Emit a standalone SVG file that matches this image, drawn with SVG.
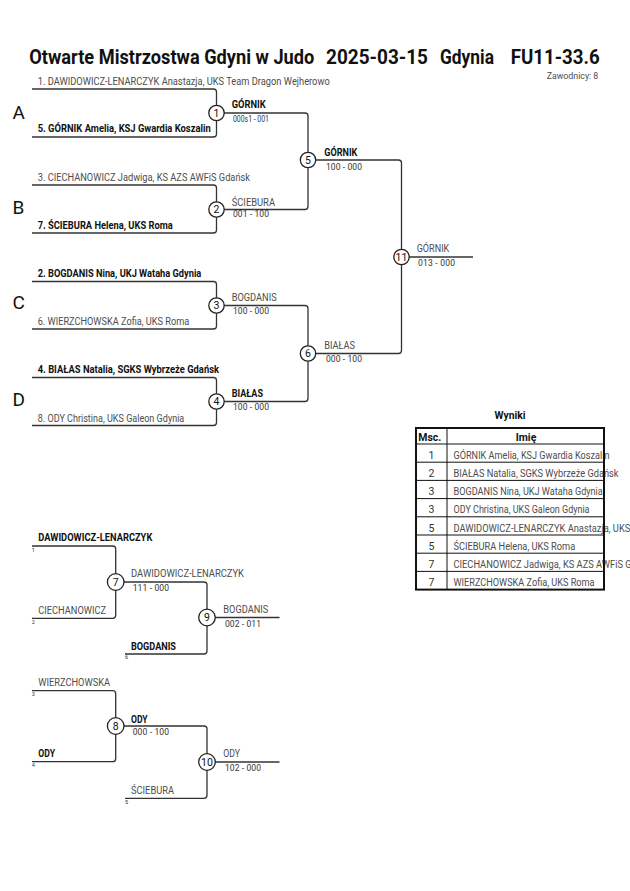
<svg xmlns="http://www.w3.org/2000/svg" width="630" height="891" viewBox="0 0 630 891">
<style>
text{font-family:Roboto,"Liberation Sans",sans-serif;}
.t{font-size:19.5px;font-weight:bold;fill:#111;}
.n{font-size:10.5px;fill:#4d4d4d;}
.b{font-size:10.5px;font-weight:bold;fill:#111;}
.s{font-size:8.5px;fill:#333;}
.seed{font-size:5.5px;fill:#333;}
.L{font-size:19px;fill:#111;}
.c{font-size:10.5px;fill:#111;text-anchor:middle;}
.ln{fill:none;stroke:#333;stroke-width:1.3;}
.ci{fill:#fff;stroke:#222;stroke-width:1.3;}
.tb{fill:none;stroke:#111;stroke-width:1;}
.tbo{fill:none;stroke:#111;stroke-width:2;}
.m{text-anchor:middle;}
</style>
<rect width="630" height="891" fill="#fff"/>
<g id="title">
<text class="t" y="64"><tspan x="29.3" textLength="285" lengthAdjust="spacingAndGlyphs">Otwarte Mistrzostwa Gdyni w Judo</tspan><tspan x="326" textLength="102" lengthAdjust="spacingAndGlyphs">2025-03-15</tspan><tspan x="440" textLength="54" lengthAdjust="spacingAndGlyphs">Gdynia</tspan><tspan x="510.7" textLength="89" lengthAdjust="spacingAndGlyphs">FU11-33.6</tspan></text>
<text class="n" x="546.7" y="79" textLength="51.6" lengthAdjust="spacingAndGlyphs" style="font-size:9.5px">Zawodnicy: 8</text>
</g>
<g id="pool-labels">
<text class="L" x="12.5" y="119">A</text>
<text class="L" x="12.5" y="214">B</text>
<text class="L" x="12.5" y="309.3">C</text>
<text class="L" x="12.5" y="405.7">D</text>
</g>
<g id="connectors">
<path class="ln" d="M32,89 H213.5 Q216.5,89 216.5,92 V134 Q216.5,137 213.5,137 H32"/>
<path class="ln" d="M32,185 H213.5 Q216.5,185 216.5,188 V230 Q216.5,233 213.5,233 H32"/>
<path class="ln" d="M32,281.5 H213.5 Q216.5,281.5 216.5,284.5 V326 Q216.5,329 213.5,329 H32"/>
<path class="ln" d="M32,377.5 H213.5 Q216.5,377.5 216.5,380.5 V422.5 Q216.5,425.5 213.5,425.5 H32"/>
<path class="ln" d="M216.5,113 H305 Q308,113 308,116 V160"/>
<path class="ln" d="M216.5,209.5 H305 Q308,209.5 308,206.5 V160"/>
<path class="ln" d="M216.5,305.5 H305 Q308,305.5 308,308.5 V353.5"/>
<path class="ln" d="M216.5,401.5 H305 Q308,401.5 308,398.5 V353.5"/>
<path class="ln" d="M308,160 H398.5 Q401.5,160 401.5,163 V257"/>
<path class="ln" d="M308,353.5 H398.5 Q401.5,353.5 401.5,350.5 V257"/>
<path class="ln" d="M401.5,257 H473"/>
<path class="ln" d="M32,546 H112.7 Q115.7,546 115.7,549 V615.3 Q115.7,618.3 112.7,618.3 H32"/>
<path class="ln" d="M115.7,582 H204 Q207,582 207,585 V617.5"/>
<path class="ln" d="M125,654 H204 Q207,654 207,651 V617.5"/>
<path class="ln" d="M207,617.5 H279.5"/>
<path class="ln" d="M32,690.7 H112.7 Q115.7,690.7 115.7,693.7 V758.7 Q115.7,761.7 112.7,761.7 H32"/>
<path class="ln" d="M115.7,726 H204 Q207,726 207,729 V762"/>
<path class="ln" d="M125,798.3 H204 Q207,798.3 207,795.3 V762"/>
<path class="ln" d="M207,762 H279.5"/>
</g>
<g id="entries">
<text class="n" x="37.7" y="85" textLength="292" lengthAdjust="spacingAndGlyphs">1. DAWIDOWICZ-LENARCZYK Anastazja, UKS Team Dragon Wejherowo</text>
<text class="b" x="37.7" y="132.3" textLength="173" lengthAdjust="spacingAndGlyphs">5. GÓRNIK Amelia, KSJ Gwardia Koszalin</text>
<text class="n" x="37.7" y="180.7" textLength="212.3" lengthAdjust="spacingAndGlyphs">3. CIECHANOWICZ Jadwiga, KS AZS AWFiS Gdańsk</text>
<text class="b" x="37.7" y="228.7" textLength="135" lengthAdjust="spacingAndGlyphs">7. ŚCIEBURA Helena, UKS Roma</text>
<text class="b" x="37.7" y="276.7" textLength="163.6" lengthAdjust="spacingAndGlyphs">2. BOGDANIS Nina, UKJ Wataha Gdynia</text>
<text class="n" x="37.7" y="325" textLength="151.6" lengthAdjust="spacingAndGlyphs">6. WIERZCHOWSKA Zofia, UKS Roma</text>
<text class="b" x="37.7" y="373.3" textLength="181.3" lengthAdjust="spacingAndGlyphs">4. BIAŁAS Natalia, SGKS Wybrzeże Gdańsk</text>
<text class="n" x="37.7" y="421.7" textLength="146.6" lengthAdjust="spacingAndGlyphs">8. ODY Christina, UKS Galeon Gdynia</text>
</g>
<g id="m1"><circle class="ci" cx="216.5" cy="113" r="7.7"/><text class="c" x="216.5" y="116.8">1</text>
<text class="b" x="231.7" y="108.3" textLength="34" lengthAdjust="spacingAndGlyphs">GÓRNIK</text><text class="s" x="233" y="121.7" textLength="36" lengthAdjust="spacingAndGlyphs">000s1 - 001</text></g>
<g id="m2"><circle class="ci" cx="216.5" cy="209.5" r="7.7"/><text class="c" x="216.5" y="213.3">2</text>
<text class="n" x="231.7" y="205.7" textLength="43.3" lengthAdjust="spacingAndGlyphs">ŚCIEBURA</text><text class="s" x="233" y="217.3" textLength="36" lengthAdjust="spacing">001 - 100</text></g>
<g id="m3"><circle class="ci" cx="216.5" cy="305.5" r="7.7"/><text class="c" x="216.5" y="309.3">3</text>
<text class="n" x="231.7" y="301" textLength="45" lengthAdjust="spacingAndGlyphs">BOGDANIS</text><text class="s" x="233" y="314" textLength="36" lengthAdjust="spacing">100 - 000</text></g>
<g id="m4"><circle class="ci" cx="216.5" cy="401.5" r="7.7"/><text class="c" x="216.5" y="405.3">4</text>
<text class="b" x="231.7" y="396.7" textLength="31.3" lengthAdjust="spacingAndGlyphs">BIAŁAS</text><text class="s" x="233" y="410" textLength="36" lengthAdjust="spacing">100 - 000</text></g>
<g id="m5"><circle class="ci" cx="308" cy="160" r="7.7"/><text class="c" x="308" y="163.8">5</text>
<text class="b" x="324.3" y="156" textLength="33" lengthAdjust="spacingAndGlyphs">GÓRNIK</text><text class="s" x="326" y="170" textLength="36" lengthAdjust="spacing">100 - 000</text></g>
<g id="m6"><circle class="ci" cx="308" cy="353.5" r="7.7"/><text class="c" x="308" y="357.3">6</text>
<text class="n" x="324.3" y="349.3" textLength="30.7" lengthAdjust="spacingAndGlyphs">BIAŁAS</text><text class="s" x="326" y="361.7" textLength="36" lengthAdjust="spacing">000 - 100</text></g>
<g id="m11"><circle class="ci" cx="401.5" cy="257" r="7.7"/><text class="c" x="401.5" y="260.8">11</text>
<text class="n" x="416.7" y="252.3" textLength="32.6" lengthAdjust="spacingAndGlyphs">GÓRNIK</text><text class="s" x="418" y="266" textLength="37" lengthAdjust="spacing">013 - 000</text></g>
<g id="repechage-entries">
<text class="b" x="38.3" y="541" textLength="114" lengthAdjust="spacingAndGlyphs">DAWIDOWICZ-LENARCZYK</text><text class="seed" x="31.7" y="551.5">1</text>
<text class="n" x="38.3" y="614" textLength="67.7" lengthAdjust="spacingAndGlyphs">CIECHANOWICZ</text><text class="seed" x="31.7" y="623.5">2</text>
<text class="b" x="131" y="650" textLength="45" lengthAdjust="spacingAndGlyphs">BOGDANIS</text><text class="seed" x="125" y="659">6</text>
<text class="n" x="38.3" y="686" textLength="71.7" lengthAdjust="spacingAndGlyphs">WIERZCHOWSKA</text><text class="seed" x="31.7" y="696">3</text>
<text class="b" x="38.3" y="757.3" textLength="16.7" lengthAdjust="spacingAndGlyphs">ODY</text><text class="seed" x="31.7" y="767">4</text>
<text class="n" x="131" y="794.3" textLength="43" lengthAdjust="spacingAndGlyphs">ŚCIEBURA</text><text class="seed" x="125" y="803.5">5</text>
</g>
<g id="m7"><circle class="ci" cx="115.7" cy="582" r="8.3"/><text class="c" x="115.7" y="585.8">7</text>
<text class="n" x="131" y="576.7" textLength="113" lengthAdjust="spacingAndGlyphs">DAWIDOWICZ-LENARCZYK</text><text class="s" x="132.7" y="590.7" textLength="36.3" lengthAdjust="spacing">111 - 000</text></g>
<g id="m9"><circle class="ci" cx="207" cy="617.5" r="8.3"/><text class="c" x="207" y="621.3">9</text>
<text class="n" x="223.3" y="612.7" textLength="45" lengthAdjust="spacingAndGlyphs">BOGDANIS</text><text class="s" x="225" y="626.7" textLength="36" lengthAdjust="spacing">002 - 011</text></g>
<g id="m8"><circle class="ci" cx="115.7" cy="726" r="8.3"/><text class="c" x="115.7" y="729.8">8</text>
<text class="b" x="131" y="722.7" textLength="16.7" lengthAdjust="spacingAndGlyphs">ODY</text><text class="s" x="132.7" y="735" textLength="36.3" lengthAdjust="spacing">000 - 100</text></g>
<g id="m10"><circle class="ci" cx="207" cy="762" r="8.3"/><text class="c" x="207" y="765.8">10</text>
<text class="n" x="223.3" y="757.3" textLength="16.7" lengthAdjust="spacingAndGlyphs">ODY</text><text class="s" x="225" y="771" textLength="36" lengthAdjust="spacing">102 - 000</text></g>
<g id="results">
<text class="b m" x="510" y="419.3" style="font-size:11.5px" textLength="31" lengthAdjust="spacingAndGlyphs">Wyniki</text>
<text class="b" x="418.3" y="440.5" textLength="23" lengthAdjust="spacingAndGlyphs">Msc.</text>
<text class="b m" x="526" y="440.5">Imię</text>
<g class="n">
<text class="m" x="431.5" y="458.8" fill="#333">1</text>
<text class="m" x="431.5" y="477" fill="#333">2</text>
<text class="m" x="431.5" y="495.2" fill="#333">3</text>
<text class="m" x="431.5" y="513.4" fill="#333">3</text>
<text class="m" x="431.5" y="531.6" fill="#333">5</text>
<text class="m" x="431.5" y="549.8" fill="#333">5</text>
<text class="m" x="431.5" y="568" fill="#333">7</text>
<text class="m" x="431.5" y="586.2" fill="#333">7</text>
<text x="453.5" y="458.8" textLength="156" lengthAdjust="spacingAndGlyphs">GÓRNIK Amelia, KSJ Gwardia Koszalin</text>
<text x="453.5" y="477" textLength="165" lengthAdjust="spacingAndGlyphs">BIAŁAS Natalia, SGKS Wybrzeże Gdańsk</text>
<text x="453.5" y="495.2" textLength="149.3" lengthAdjust="spacingAndGlyphs">BOGDANIS Nina, UKJ Wataha Gdynia</text>
<text x="453.5" y="513.4" textLength="136" lengthAdjust="spacingAndGlyphs">ODY Christina, UKS Galeon Gdynia</text>
<text x="453.5" y="531.6" textLength="282.5" lengthAdjust="spacingAndGlyphs">DAWIDOWICZ-LENARCZYK Anastazja, UKS Team Dragon Wejherowo</text>
<text x="453.5" y="549.8" textLength="121.7" lengthAdjust="spacingAndGlyphs">ŚCIEBURA Helena, UKS Roma</text>
<text x="453.5" y="568" textLength="203" lengthAdjust="spacingAndGlyphs">CIECHANOWICZ Jadwiga, KS AZS AWFiS Gdańsk</text>
<text x="453.5" y="586.2" textLength="141" lengthAdjust="spacingAndGlyphs">WIERZCHOWSKA Zofia, UKS Roma</text>
</g>
<path class="tb" d="M416,444 H604 M416,462.2 H604 M416,480.4 H604 M416,498.6 H604 M416,516.8 H604 M416,535 H604 M416,553.2 H604 M416,571.4 H604 M447,428 V589.6"/>
<rect class="tbo" x="416" y="428" width="188" height="161.6"/>
</g>
</svg>
